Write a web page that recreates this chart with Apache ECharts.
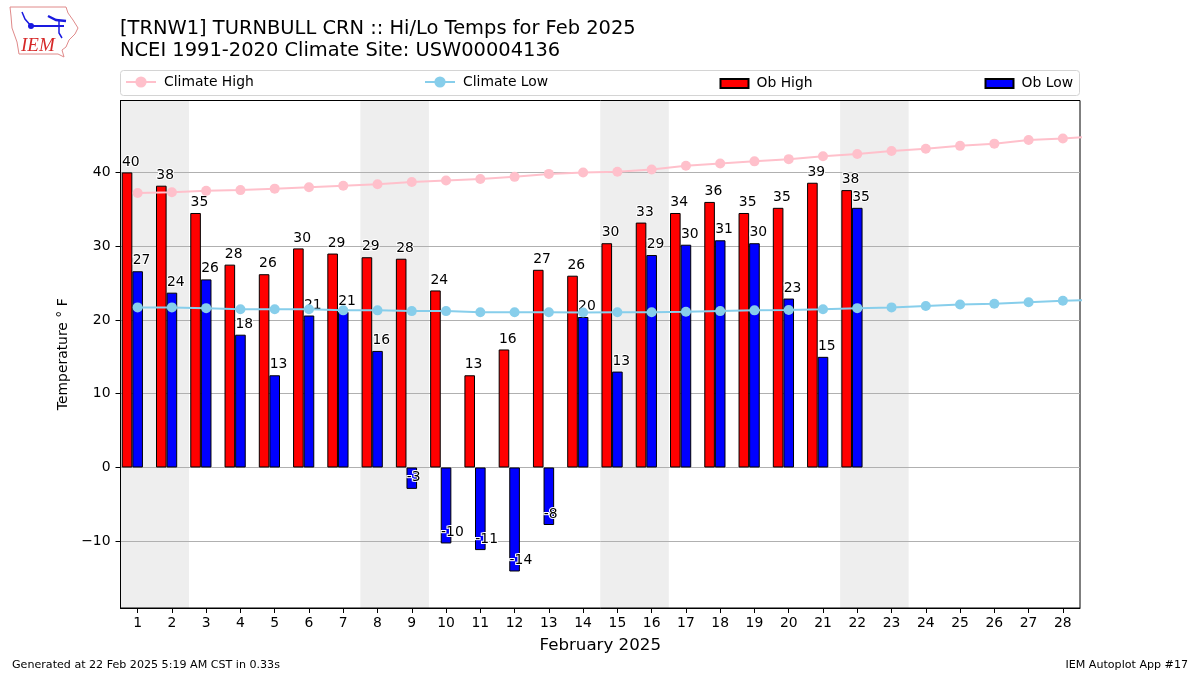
<!DOCTYPE html>
<html><head><meta charset="utf-8">
<style>html,body{margin:0;padding:0;background:#fff}#c{width:1200px;height:675px}</style>
<script src="https://cdn.jsdelivr.net/npm/echarts@6/dist/echarts.min.js"></script>
</head><body><div id="c"></div>
<script>
const days = ['1','2','3','4','5','6','7','8','9','10','11','12','13','14','15','16','17','18','19','20','21','22','23','24','25','26','27','28'];
const obHigh = [40,38.2,34.5,27.5,26.2,29.7,29.0,28.5,28.3,24.0,12.5,16.0,26.8,26.0,30.4,33.2,34.5,36.0,34.5,35.2,38.6,37.6];
const obLow = [26.6,23.7,25.5,18.0,12.5,20.6,21.1,15.8,-2.9,-10.3,-11.2,-14.1,-7.8,20.4,13.0,28.8,30.2,30.8,30.4,22.9,15.0,35.2];
const highLabels = [40,38,35,28,26,30,29,29,28,24,13,16,27,26,30,33,34,36,35,35,39,38];
const lowLabels = [27,24,26,18,13,21,21,16,-3,-10,-11,-14,-8,20,13,29,30,31,30,23,15,35];
const climateDays = [1,2,3,4,5,6,7,8,9,10,11,12,13,14,15,16,17,18,19,20,21,22,23,24,25,26,27,28,29];
const climateHigh = [37.2,37.3,37.5,37.6,37.8,38.0,38.2,38.4,38.7,38.9,39.1,39.4,39.8,40.0,40.1,40.4,40.9,41.2,41.5,41.8,42.2,42.5,42.9,43.2,43.6,43.9,44.4,44.6,44.9];
const climateLow = [21.7,21.7,21.6,21.45,21.45,21.45,21.3,21.3,21.2,21.2,21.05,21.05,21.05,21.0,21.05,21.05,21.1,21.2,21.3,21.35,21.45,21.6,21.7,21.9,22.1,22.2,22.4,22.6,22.7];
const weekends = [[0.5,2.5],[7.5,9.5],[14.5,16.5],[21.5,23.5]];
const yTicks = [-10,0,10,20,30,40];
const FONT = '"DejaVu Sans"';

function pairs(ys){ return ys.map((v,i)=>[climateDays[i],v]); }
function barData(vals, labels){
  return vals.map((v,i)=>({
    value:v,
    label:{
      formatter:String(labels[i]),
      position: v<0 ? 'insideBottom' : 'top',
      distance: v<0 ? 4 : 3.5
    }
  }));
}
const barLabel = {show:true,align:'left',offset:[-5,0],color:'#000',fontFamily:FONT,fontSize:13.9,textBorderColor:'#fff',textBorderWidth:2};
function oneLegend(name,left,top,w,h,icon){
  const o = {data:[{name:name}],left:left,top:top,orient:'horizontal',itemWidth:w,itemHeight:h,itemGap:0,padding:0,
    textStyle:{fontFamily:FONT,fontSize:13.9,color:'#000',padding:[0,0,0,3]}};
  if(icon) o.data[0].icon = icon;
  return o;
}
const chart = echarts.init(document.getElementById('c'),null,{renderer:'canvas'});
chart.setOption({
  animation:false,
  backgroundColor:'#fff',
  title:[
    {text:'[TRNW1] TURNBULL CRN :: Hi/Lo Temps for Feb 2025',left:120,top:19,padding:0,textStyle:{fontFamily:FONT,fontSize:19.44,fontWeight:'normal',color:'#000'}},
    {text:'NCEI 1991-2020 Climate Site: USW00004136',left:120,top:41,padding:0,textStyle:{fontFamily:FONT,fontSize:19.44,fontWeight:'normal',color:'#000'}}
  ],
  legend:[
    oneLegend('Climate High',125,75,30,14),
    oneLegend('Climate Low',424,75,30,14),
    oneLegend('Ob High',719.5,76.5,28,9,'rect'),
    oneLegend('Ob Low',984.5,76.5,28,9,'rect')
  ],
  grid:{left:120.5,top:100.5,width:959.5,height:507.5,show:true,borderColor:'#000',borderWidth:1,backgroundColor:'transparent'},
  xAxis:[
    {type:'category',data:days,boundaryGap:true,
      axisLine:{show:true,onZero:false,lineStyle:{color:'#000'}},
      axisTick:{show:true,alignWithLabel:true,length:5,lineStyle:{color:'#000'}},
      axisLabel:{interval:0,fontFamily:FONT,fontSize:13.9,color:'#000',margin:8},
      splitLine:{show:false},
      name:'February 2025',nameLocation:'middle',nameGap:29,
      nameTextStyle:{fontFamily:FONT,fontSize:16.67,color:'#000'}},
    {type:'value',min:0.5,max:28.5,show:false,splitLine:{show:false}}
  ],
  yAxis:{type:'value',min:-19.05,max:49.75,
    axisLine:{show:true,lineStyle:{color:'#000'}},
    axisTick:{show:true,length:5,lineStyle:{color:'#000'},customValues:yTicks},
    axisLabel:{fontFamily:FONT,fontSize:13.9,color:'#000',margin:10,customValues:yTicks,
      formatter:v=>String(v).replace('-','\u2212')},
    splitLine:{show:true,lineStyle:{color:'#b0b0b0',width:1}},
    name:'Temperature \u00b0 F',nameLocation:'middle',nameGap:50,nameRotate:90,
    nameTextStyle:{fontFamily:FONT,fontSize:13.9,color:'#000'}},
  series:[
    {name:'shade',type:'line',xAxisIndex:1,data:[],silent:true,z:-1,
      markArea:{silent:true,z:-1,itemStyle:{color:'#eeeeee'},
        data:weekends.map(w=>[{xAxis:w[0]},{xAxis:w[1]}])}},
    {name:'Ob High',type:'bar',data:barData(obHigh,highLabels),barWidth:10.6,barGap:0,z:2,
      itemStyle:{color:'#ff0000',borderColor:'#000',borderWidth:1,borderJoin:'miter'},label:barLabel},
    {name:'Ob Low',type:'bar',data:barData(obLow,lowLabels),barWidth:10.6,barGap:0,z:2,
      itemStyle:{color:'#0000ff',borderColor:'#000',borderWidth:1,borderJoin:'miter'},label:barLabel},
    {name:'spacer',type:'bar',data:[],barWidth:10.6,barGap:0},
    {name:'Climate High',type:'line',xAxisIndex:1,data:pairs(climateHigh),z:3,clip:true,
      symbol:'circle',symbolSize:10,showAllSymbol:true,
      lineStyle:{color:'#ffc0cb',width:2},itemStyle:{color:'#ffc0cb'}},
    {name:'Climate Low',type:'line',xAxisIndex:1,data:pairs(climateLow),z:3,clip:true,
      symbol:'circle',symbolSize:10,showAllSymbol:true,
      lineStyle:{color:'#87ceeb',width:2},itemStyle:{color:'#87ceeb'}}
  ],
  graphic:[
    {type:'rect',z:-5,shape:{x:120.5,y:70.5,width:959,height:25,r:3},style:{fill:'#fff',stroke:'#d4d4d4',lineWidth:1}},
    {type:'text',left:12,top:660,style:{text:'Generated at 22 Feb 2025 5:19 AM CST in 0.33s',font:'11.1px "DejaVu Sans"',fill:'#000'}},
    {type:'text',right:12,top:660,style:{text:'IEM Autoplot App #17',font:'11.1px "DejaVu Sans"',fill:'#000'}},
    {type:'polyline',shape:{points:[[10,7],[66,7],[68,13],[73,20],[78,28],[75,34],[69,40],[66,47],[62,50],[64,57],[58,54],[19,54],[17,42],[12,28],[11,16],[10,7]]},style:{fill:'#fff',stroke:'#e08a8a',lineWidth:1}},
    {type:'polyline',shape:{points:[[31,26],[64,26]]},style:{stroke:'#1a1ae0',fill:'none',lineWidth:2}},
    {type:'polyline',shape:{points:[[31,26],[25,19],[22,12]]},style:{stroke:'#1a1ae0',fill:'none',lineWidth:1.5}},
    {type:'polyline',shape:{points:[[48,16],[56,20],[66,21]]},style:{stroke:'#1a1ae0',fill:'none',lineWidth:2.5}},
    {type:'polyline',shape:{points:[[59,21],[59,33],[62,38]]},style:{stroke:'#1a1ae0',fill:'none',lineWidth:1.5}},
    {type:'circle',shape:{cx:31,cy:26,r:3},style:{fill:'#1a1ae0'}},
    {type:'text',left:21,top:36,style:{text:'IEM',font:'italic 19px "Liberation Serif"',fill:'#d62828'}}
  ]
});
</script></body></html>
